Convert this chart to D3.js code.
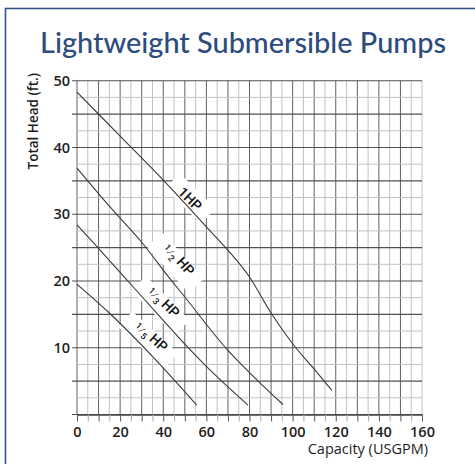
<!DOCTYPE html>
<html>
<head>
<meta charset="utf-8">
<script src="https://cdn.jsdelivr.net/npm/d3@7"></script>
<style>
body { margin: 0; background: #fff; }
</style>
</head>
<body>
<div id="chart"></div>
<script>
var title = "Lightweight Submersible Pumps";
var xLabel = "Capacity (USGPM)";
var yLabel = "Total Head (ft.)";
var xTickLabels = [0, 20, 40, 60, 80, 100, 120, 140, 160];
var yTickLabels = [10, 20, 30, 40, 50];

// pump curves, [capacity, head]
var hp1 = [[0, 48.3], [20, 41.7], [40, 35.1], [60, 28.1], [70, 24.6], [80, 20.6], [90, 15.2], [100, 10.6], [110, 6.8], [118.2, 3.6]];
var hpHalf = [[0, 36.9], [15, 31.2], [30, 25.8], [43, 20.4], [50, 17.6], [70, 9.6], [84, 5.0], [95.5, 1.5]];
var hpThird = [[0, 28.4], [8, 25.6], [20, 21.3], [40, 14.1], [51, 10.2], [60, 7.2], [79.3, 1.4]];
var hpFifth = [[0, 19.5], [15, 15.2], [35, 8.7], [55.5, 1.4]];

// label text: whole number or fraction, and where it sits
var curveLabels = [
    { num: "1", den: null, at: [52.4, 32.3], curve: hp1 },
    { num: "1", den: "2", at: [45.5, 22.7], curve: hpHalf },
    { num: "1", den: "3", at: [38.5, 16.3], curve: hpThird },
    { num: "1", den: "5", at: [32.9, 11.1], curve: hpFifth }
];

var width = 475, height = 464;

var svg = d3.select("#chart").append("svg")
    .attr("width", width)
    .attr("height", height);

// frame
svg.append("rect")
    .attr("x", 5.5).attr("y", 8.5)
    .attr("width", 500).attr("height", 500)
    .attr("fill", "none")
    .attr("stroke", "#34558a")
    .attr("stroke-width", 1.6);

var t = svg.append("text")
    .attr("x", 243).attr("y", 53)
    .attr("text-anchor", "middle")
    .attr("fill", "#2d4b7e")
    .style("font-family", "Lato")
    .style("font-weight", 500)
    .style("font-size", "28px")
    .text(title);
var tw = t.node().getComputedTextLength();
t.style("font-size", (28 * 406 / tw) + "px");

var x = d3.scaleLinear().domain([0, 160]).range([77, 422]);
var y = d3.scaleLinear().domain([0, 50]).range([414.5, 80.7]);

var grid = svg.append("g");

grid.selectAll("line.v")
    .data(d3.range(0, 161, 5))
    .enter().append("line")
    .attr("x1", function(d) { return x(d); })
    .attr("x2", function(d) { return x(d); })
    .attr("y1", y(0))
    .attr("y2", y(50))
    .attr("stroke", function(d) { return d % 10 === 0 && d !== 160 ? "#606060" : "#c2c2c2"; })
    .attr("stroke-width", 1);

grid.selectAll("line.h")
    .data(d3.range(0, 50.01, 2.5))
    .enter().append("line")
    .attr("x1", function(d) { return d % 5 === 0 ? x(0) - 5 : x(0); })
    .attr("x2", x(160))
    .attr("y1", function(d) { return y(d); })
    .attr("y2", function(d) { return y(d); })
    .attr("stroke", function(d) { return d % 5 === 0 ? "#505050" : "#c2c2c2"; })
    .attr("stroke-width", function(d) { return d % 5 === 0 ? 1.1 : 1; });

// x axis
var xAxis = d3.axisBottom(x)
    .tickValues(d3.range(0, 161, 5))
    .tickSize(7)
    .tickSizeOuter(0)
    .tickPadding(5)
    .tickFormat(function(d) { return xTickLabels.indexOf(d) >= 0 ? d : ""; });

var gx = svg.append("g")
    .attr("transform", "translate(0," + y(0) + ")")
    .call(xAxis);
gx.select(".domain").attr("stroke", "#444").attr("stroke-width", 1.4);
gx.selectAll(".tick line")
    .attr("stroke", function(d) { return d % 10 === 0 ? "#555" : "#aaa"; });
gx.selectAll(".tick text")
    .attr("fill", "#1e1e1e")
    .style("font-family", "Open Sans")
    .style("font-weight", 600)
    .style("font-size", "14.5px");

// y axis labels
var yAxis = d3.axisLeft(y)
    .tickValues(yTickLabels)
    .tickSize(0)
    .tickPadding(7);
var gy = svg.append("g")
    .attr("transform", "translate(" + x(0) + ",0)")
    .call(yAxis);
gy.select(".domain").remove();
gy.selectAll(".tick text")
    .attr("fill", "#1e1e1e")
    .style("font-family", "Open Sans")
    .style("font-weight", 600)
    .style("font-size", "14.5px");

svg.append("text")
    .attr("transform", "translate(38,73) rotate(-90)")
    .attr("text-anchor", "end")
    .attr("fill", "#1e1e1e")
    .style("font-family", "Open Sans")
    .style("font-weight", 600)
    .style("font-size", "13.5px")
    .text(yLabel);

svg.append("text")
    .attr("x", 428).attr("y", 454)
    .attr("text-anchor", "end")
    .attr("fill", "#1e1e1e")
    .style("font-family", "Open Sans")
    .style("font-weight", 500)
    .style("font-size", "14.5px")
    .text(xLabel);

// angle of a curve near a capacity, in screen space
var _angleAt = function(curve, cx) {
    var i = 1;
    while (i < curve.length - 1 && curve[i][0] < cx) i++;
    var a = curve[i - 1], b = curve[i];
    return Math.atan2(y(b[1]) - y(a[1]), x(b[0]) - x(a[0])) * 180 / Math.PI - 3;
};

var labels = svg.append("g");

curveLabels.forEach(function(c) {
    var ang = _angleAt(c.curve, c.at[0]);
    var g = labels.append("g")
        .attr("transform", "translate(" + x(c.at[0]) + "," + y(c.at[1]) + ") rotate(" + ang + ")");
    var w = c.den ? 48 : 36;
    g.append("rect")
        .attr("x", -w / 2 - 7).attr("y", -11)
        .attr("width", w + 14).attr("height", 21)
        .attr("fill", "#fff");
});

var line = d3.line()
    .x(function(d) { return x(d[0]); })
    .y(function(d) { return y(d[1]); })
    .curve(d3.curveMonotoneX);

svg.append("g").attr("class", "curves")
    .selectAll("path")
    .data([hp1, hpHalf, hpThird, hpFifth])
    .enter().append("path")
    .attr("d", line)
    .attr("fill", "none")
    .attr("stroke", "#3a3a3a")
    .attr("stroke-width", 1.1);

curveLabels.forEach(function(c) {
    var ang = _angleAt(c.curve, c.at[0]);
    var txt = svg.append("text")
        .attr("transform", "translate(" + x(c.at[0]) + "," + y(c.at[1]) + ") rotate(" + ang + ")")
        .attr("text-anchor", "middle")
        .attr("dy", "0.35em")
        .attr("fill", "#111")
        .style("font-family", "Roboto")
        .style("font-weight", 500)
        .style("font-size", "14px");
    if (c.den) {
        txt.append("tspan").attr("dy", "-0.2em").style("font-size", "9px").text(c.num);
        txt.append("tspan").attr("dy", "0.2em").style("font-size", "12px").style("font-weight", 300).text("\u2044");
        txt.append("tspan").attr("dy", "0.25em").style("font-size", "9px").text(c.den);
        txt.append("tspan").attr("dy", "-0.25em").text(" HP");
    } else {
        txt.text(c.num + "HP");
    }
});
</script>
</body>
</html>
